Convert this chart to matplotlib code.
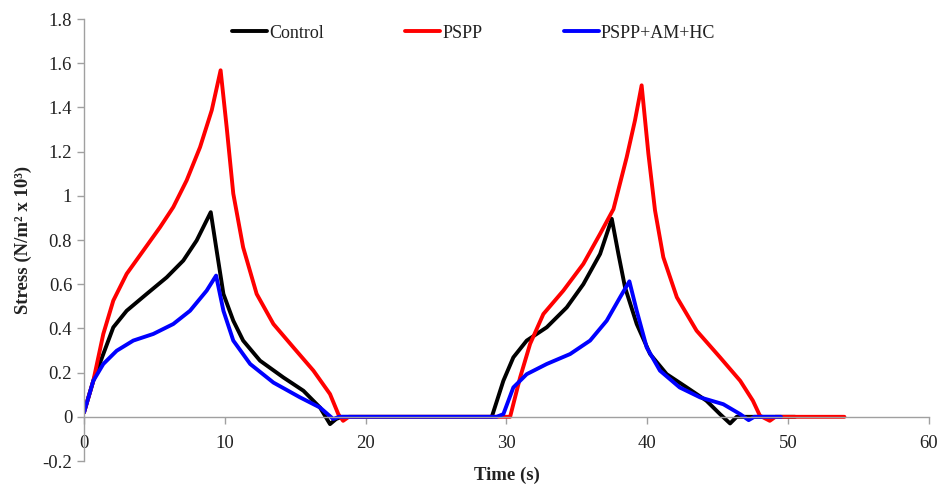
import matplotlib
matplotlib.use("Agg")
import matplotlib.pyplot as plt

# Data (time in s, stress in N/m^2 x 10^3)
control_t = [0, 0.66, 1.37, 2.08, 3.03, 4.45, 5.87, 7.05, 8.0, 9.0, 9.42, 9.9, 10.6, 11.3,
             12.5, 14.16, 15.58, 16.76, 17.47, 17.9, 18.3, 23.5, 28.96, 29.78, 30.49, 31.44,
             32.86, 34.28, 35.46, 36.65, 37.48, 37.95, 38.42, 39.25, 40.2, 41.38, 42.8, 44.2,
             45.17, 45.88, 46.35, 50.5]
control_y = [0.02, 0.163, 0.284, 0.405, 0.48, 0.556, 0.631, 0.707, 0.798, 0.926, 0.752, 0.556,
             0.435, 0.345, 0.254, 0.178, 0.118, 0.042, -0.033, -0.01, 0.0, 0.0, 0.0, 0.163,
             0.269, 0.345, 0.405, 0.495, 0.60, 0.737, 0.896, 0.737, 0.586, 0.42, 0.284, 0.193,
             0.133, 0.073, 0.012, -0.03, 0.0, 0.0]

pspp_t = [0, 0.66, 1.37, 2.08, 3.03, 4.21, 5.4, 6.34, 7.29, 8.24, 9.07, 9.7, 10.13, 10.6,
          11.3, 12.26, 13.45, 14.87, 16.29, 17.47, 18.06, 18.4, 18.8, 30.26, 30.97, 31.68,
          32.62, 34.04, 35.46, 36.65, 37.6, 38.54, 39.13, 39.6, 40.08, 40.55, 41.14, 42.1,
          43.5, 45.17, 46.6, 47.5, 48.0, 48.7, 49.1, 54.0]
pspp_y = [0.02, 0.163, 0.375, 0.526, 0.647, 0.752, 0.858, 0.949, 1.07, 1.22, 1.387, 1.568,
          1.311, 1.01, 0.767, 0.556, 0.42, 0.314, 0.209, 0.103, 0.012, -0.018, 0.0, 0.0,
          0.178, 0.33, 0.465, 0.571, 0.692, 0.828, 0.94, 1.175, 1.342, 1.50, 1.19, 0.934,
          0.722, 0.541, 0.39, 0.269, 0.163, 0.073, 0.005, -0.018, 0.0, 0.0]

pah_t = [0, 0.66, 1.37, 2.32, 3.5, 4.92, 6.34, 7.53, 8.71, 9.38, 9.9, 10.6, 11.8, 13.45,
         15.34, 16.76, 17.7, 18.1, 29.3, 29.78, 30.49, 31.44, 32.86, 34.52, 35.94, 37.12,
         38.07, 38.73, 39.25, 39.96, 40.9, 42.3, 43.75, 45.4, 46.6, 47.2, 47.6, 49.5]
pah_y = [0.02, 0.163, 0.239, 0.299, 0.345, 0.375, 0.42, 0.48, 0.571, 0.639, 0.48, 0.345,
         0.239, 0.155, 0.088, 0.042, -0.01, 0.0, 0.0, 0.012, 0.133, 0.193, 0.239, 0.284,
         0.345, 0.435, 0.541, 0.613, 0.48, 0.314, 0.209, 0.133, 0.088, 0.057, 0.012, -0.015,
         0.0, 0.0]

series_labels = ["Control", "PSPP", "PSPP+AM+HC"]
x_ticks = [0, 10, 20, 30, 40, 50, 60]
y_ticks = [-0.2, 0, 0.2, 0.4, 0.6, 0.8, 1.0, 1.2, 1.4, 1.6, 1.8]
y_tick_labels = ["-0.2", "0", "0.2", "0.4", "0.6", "0.8", "1", "1.2", "1.4", "1.6", "1.8"]

plt.rcParams['font.family'] = ['Liberation Serif', 'DejaVu Serif']

fig = plt.figure(figsize=(9.44, 4.88), dpi=100)
ax = fig.add_axes([0.089, 0.0553, 0.895, 0.9057])

lw = 2.8
ax.plot(control_t, control_y, color='#000000', lw=lw, label=series_labels[0],
        solid_joinstyle='round', solid_capstyle='round')
ax.plot(pspp_t, pspp_y, color='#ff0000', lw=lw, label=series_labels[1],
        solid_joinstyle='round', solid_capstyle='round')
ax.plot(pah_t, pah_y, color='#0000ff', lw=lw, label=series_labels[2],
        solid_joinstyle='round', solid_capstyle='round')

ax.set_xlim(0, 60)
ax.set_ylim(-0.2, 1.8)
ax.set_xticks(x_ticks)
ax.set_xticklabels([str(v) for v in x_ticks])
ax.set_yticks(y_ticks)
ax.set_yticklabels(y_tick_labels)

for s in ['top', 'right']:
    ax.spines[s].set_visible(False)
ax.spines['bottom'].set_position(('data', 0))
for s in ['left', 'bottom']:
    ax.spines[s].set_color('#a0a0a0')
    ax.spines[s].set_linewidth(1.0)
ax.tick_params(axis='both', colors='#a0a0a0', labelcolor='#222222', labelsize=13.5,
               length=5, width=1.0, direction='out')
ax.tick_params(axis='x', pad=8)

ax.set_xlabel("Time (s)", fontsize=13.5, fontweight='bold', color='#222222')
ax.xaxis.set_label_coords(0.5, -0.012)
ax.set_ylabel("Stress (N/m² x 10³)", fontsize=13.5, fontweight='bold', color='#222222')
ax.yaxis.set_label_coords(-0.062, 0.5)

leg = ax.legend(loc='center', bbox_to_anchor=(0.461, 0.968), ncol=3, frameon=False,
                fontsize=13, handlelength=1.95, handletextpad=0.1, columnspacing=4.5,
                labelcolor='#222222')

fig.savefig("out.png", dpi=100)
